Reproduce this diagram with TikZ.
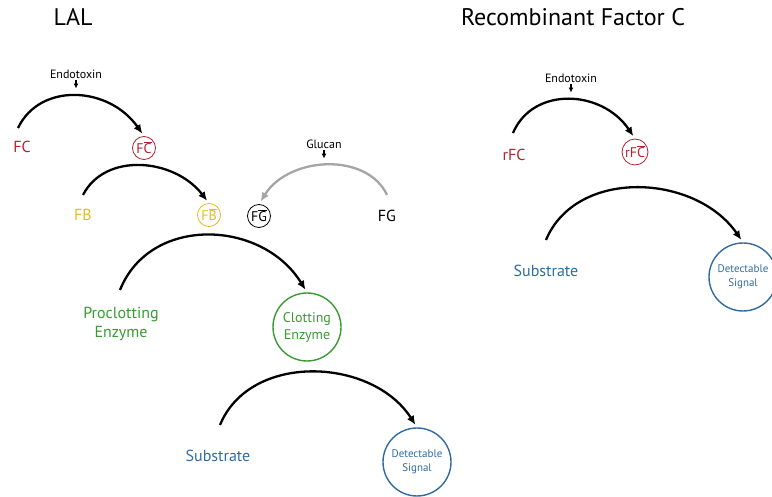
\documentclass[tikz,border=0pt]{standalone}
\usepackage{fontspec}
\setmainfont{PT Sans}
\usetikzlibrary{arrows.meta,positioning}
\definecolor{fcred}{HTML}{B5222E}
\definecolor{fbgold}{HTML}{E0BC22}
\definecolor{pcgreen}{HTML}{3A9A33}
\definecolor{subblue}{HTML}{2F6BA3}
\definecolor{glgray}{HTML}{A5A5A5}
\newcommand{\ovl}[1]{$\overline{\mbox{#1}}$}
\tikzset{
  react/.style={line width=2.3pt, -{Latex[length=9pt,width=8pt]}, shorten >=3pt},
  trigger/.style={line width=1.2pt, -{Latex[length=5pt,width=5pt]}},
  factor/.style={font=\fontsize{16}{18}\selectfont, align=center, inner sep=1pt},
  active/.style={circle, draw, line width=0.8pt, minimum size=23pt, inner sep=0pt,
                 font=\fontsize{14}{16}\selectfont},
  product/.style={circle, draw, line width=1.4pt, minimum size=68pt, inner sep=0pt,
                  align=center},
  cue/.style={font=\fontsize{12}{14}\selectfont, inner sep=1pt},
  heading/.style={font=\fontsize{24}{28}\selectfont}
}
\begin{document}
\begin{tikzpicture}[x=1pt, y=-1pt]
\useasboundingbox (0,0) rectangle (772,497);

% ---------- LAL cascade
\node[heading] (lal) at (73,17) {LAL};
\node[cue] (endoL) at (76,74) {Endotoxin};
\node[factor, fcred] (fc) at (22,147) {FC};
\node[active, fcred] (fca) at (144,148) {F\ovl{C}};
\node[factor, fbgold] (fb) at (83,215) {FB};
\node[active, fbgold] (fba) at (209,215) {F\ovl{B}};
\node[active, black] (fga) at (259,216) {F\ovl{G}};
\node[factor, black] (fg) at (387,216) {FG};
\node[cue] (glucan) at (324,144) {Glucan};
\node[factor, pcgreen] (pce) at (121,324) {Proclotting\\[1pt]Enzyme};
\node[product, pcgreen, font=\fontsize{14}{16}\selectfont] (ce) at (307,327) {Clotting\\[1pt]Enzyme};
\node[factor, subblue] (subL) at (218,456) {Substrate};
\node[product, subblue, font=\fontsize{11}{14}\selectfont] (sigL) at (417,462) {Detectable\\Signal};

\draw[react] ([shift={(-4,-19)}]fc.center) .. controls +(22,-46) and +(-35,-50) .. (fca.north);
\draw[trigger] (endoL.south) -- ++(0,9);
\draw[react] ([shift={(0,-20)}]fb.center) .. controls +(22,-43) and +(-35,-45) .. (fba.north);
\draw[react, glgray] ([shift={(0,-21)}]fg.center) .. controls +(-20,-43) and +(30,-48) .. (fga.north);
\draw[trigger] (glucan.south) -- ++(0,9);
\draw[react] ([shift={(-1,-34)}]pce.center) .. controls +(30,-75) and +(-45,-73) .. (ce.north);
\draw[react] ([shift={(2,-31)}]subL.center) .. controls +(30,-73) and +(-45,-70) .. (sigL.north);

% ---------- recombinant factor C
\node[heading] (rfcl) at (573,17) {Recombinant Factor C};
\node[cue] (endoR) at (571,78) {Endotoxin};
\node[factor, fcred] (rfc) at (514,155) {rFC};
\node[active, fcred, minimum size=26pt] (rfca) at (635,152) {rF\ovl{C}};
\node[factor, subblue] (subR) at (546,271) {Substrate};
\node[product, subblue, font=\fontsize{11}{14}\selectfont] (sigR) at (743,277) {Detectable\\Signal};

\draw[react] ([shift={(-1,-22)}]rfc.center) .. controls +(20,-47) and +(-33,-49) .. (rfca.north);
\draw[trigger] (endoR.south) -- ++(0,9);
\draw[react] ([shift={(0,-31)}]subR.center) .. controls +(30,-72) and +(-48,-69) .. (sigR.north);
\end{tikzpicture}
\end{document}
